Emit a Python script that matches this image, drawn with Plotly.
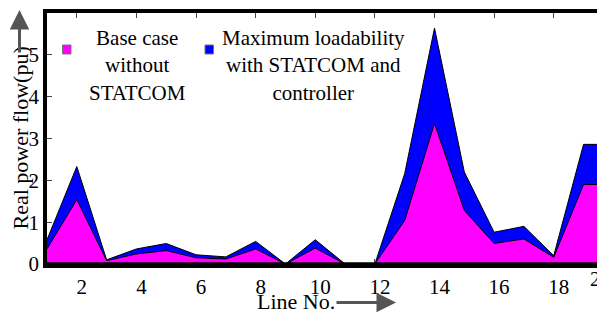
import plotly.graph_objects as go

# Data
line_no = [1, 2, 3, 4, 5, 6, 7, 8, 9, 10, 11, 12, 13, 14, 15, 16, 17, 18, 19, 20]
base_case = [0.36, 1.54, 0.08, 0.24, 0.32, 0.15, 0.12, 0.36, 0.0, 0.38, 0.0, 0.0,
             1.04, 3.36, 1.28, 0.49, 0.6, 0.16, 1.9, 1.9]
max_load = [0.58, 2.33, 0.1, 0.36, 0.49, 0.22, 0.17, 0.54, 0.0, 0.58, 0.0, 0.0,
            2.16, 5.64, 2.2, 0.76, 0.9, 0.2, 2.86, 2.86]
x_ticks = [2, 4, 6, 8, 10, 12, 14, 16, 18]
y_ticks = [0, 1, 2, 3, 4, 5, 6]

FONT = "'Liberation Serif', 'Times New Roman', 'DejaVu Serif', serif"
OFF = 8  # page body margin
W, H = 605 - OFF, 312 - OFF
L, T, B = 47 - OFF, 13 - OFF, 48
PW = W - L
PH = H - T - B


def px(x):
    return (x - OFF - L) / PW


def py(y):
    return (H - B - (y - OFF)) / PH


fig = go.Figure()
fig.add_trace(go.Scatter(
    x=line_no, y=max_load, mode="lines", fill="tozeroy",
    fillcolor="#0000ff", line=dict(color="black", width=1),
    name="Maximum loadability with STATCOM and controller", showlegend=False))
fig.add_trace(go.Scatter(
    x=line_no, y=base_case, mode="lines", fill="tozeroy",
    fillcolor="#ff00ff", line=dict(color="black", width=1),
    name="Base case without STATCOM", showlegend=False))

annotations = [
    dict(text="Base case<br>without<br>STATCOM", xref="paper", yref="paper",
         x=px(137.5), y=py(65), xanchor="center", yanchor="middle", align="center",
         showarrow=False, font=dict(family=FONT, size=21, color="black")),
    dict(text="Maximum loadability<br>with STATCOM and<br>controller", xref="paper", yref="paper",
         x=px(313), y=py(65), xanchor="center", yanchor="middle", align="center",
         showarrow=False, font=dict(family=FONT, size=21, color="black")),
    dict(text="Real power flow(pu)", xref="paper", yref="paper", textangle=-90,
         x=px(20), y=py(138.5), xanchor="center", yanchor="middle",
         showarrow=False, font=dict(family=FONT, size=22, color="black")),
    dict(text="Line No.", xref="paper", yref="paper",
         x=px(296), y=py(301.5), xanchor="center", yanchor="middle",
         showarrow=False, font=dict(family=FONT, size=22, color="black")),
    dict(text="20", xref="paper", yref="paper",
         x=px(588), y=py(279), xanchor="left", yanchor="middle",
         showarrow=False, font=dict(family=FONT, size=21, color="black")),
    # arrows
    dict(text="", xref="paper", yref="paper", x=px(19.5), y=py(10), ax=0, ay=44,
         showarrow=True, arrowhead=2, arrowsize=1.3, arrowwidth=3, arrowcolor="#555555"),
    dict(text="", xref="paper", yref="paper", x=px(396), y=py(302.5), ax=-61, ay=0,
         showarrow=True, arrowhead=2, arrowsize=1.3, arrowwidth=3, arrowcolor="#555555"),
]

shapes = [
    dict(type="rect", xref="paper", yref="paper", x0=px(62.5), x1=px(71), y0=py(54), y1=py(45),
         fillcolor="#ff00ff", line=dict(color="#777777", width=1), layer="above"),
    dict(type="rect", xref="paper", yref="paper", x0=px(205), x1=px(213.5), y0=py(54), y1=py(45),
         fillcolor="#0000ff", line=dict(color="#777777", width=1), layer="above"),
    dict(type="line", xref="paper", yref="paper", x0=-0.005, x1=1, y0=0, y1=0,
         line=dict(color="black", width=3.5), layer="above"),
]

fig.update_layout(
    width=W, height=H,
    margin=dict(l=L, r=0, t=T, b=B),
    paper_bgcolor="white", plot_bgcolor="white",
    font=dict(family=FONT, size=21, color="black"),
    annotations=annotations, shapes=shapes,
    xaxis=dict(range=[1, 19.72], tickvals=x_ticks, ticktext=[str(v) for v in x_ticks],
               ticks="inside", ticklen=5, tickwidth=1, tickcolor="#444444",
               showline=True, linecolor="black", linewidth=3.5, mirror="ticks",
               showgrid=False, zeroline=False, layer="below traces",
               ticklabelshift=5, ticklabelstandoff=1,
               tickfont=dict(family=FONT, size=21, color="black")),
    yaxis=dict(range=[0, 6], tickvals=y_ticks, ticks="inside", ticklen=5, tickwidth=1,
               tickcolor="#444444", showline=True, linecolor="black", linewidth=3.5,
               showgrid=False, zeroline=False, layer="above traces",
               tickfont=dict(family=FONT, size=21, color="black")),
)

fig.write_html("out.html")
